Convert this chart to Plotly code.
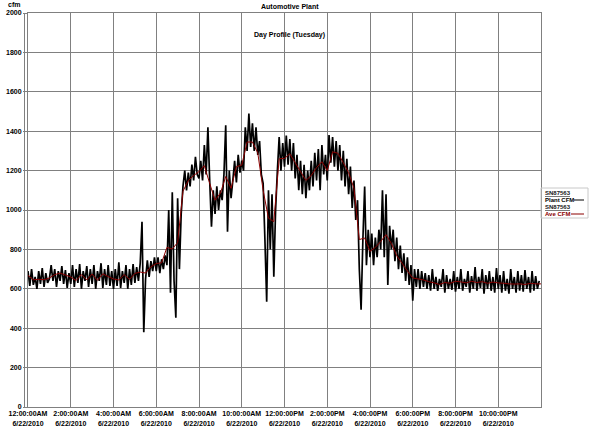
import plotly.graph_objects as go
import pandas as pd

# ---------------- data ----------------
title_text = "Automotive Plant"
subtitle_text = "Day Profile (Tuesday)"
y_unit = "cfm"
series_names = ["Plant CFM", "Ave CFM"]
meter_id = "SN87563"

# Plant CFM, 5-minute samples, one row per hour (00:00 .. 23:55)
black_cfm = [
    690, 615, 700, 620, 660, 600, 690, 625, 705, 610, 680, 630,
    650, 720, 640, 700, 610, 690, 640, 715, 625, 695, 605, 680,
    625, 720, 610, 700, 630, 725, 600, 690, 640, 715, 610, 700,
    625, 720, 600, 690, 640, 730, 605, 700, 620, 720, 615, 690,
    600, 700, 615, 735, 605, 690, 630, 720, 600, 700, 620, 725,
    630, 710, 640, 730, 940, 380, 650, 745, 660, 740, 690, 760,
    690, 760, 680, 750, 700, 770, 720, 1000, 580, 1090, 640, 453,
    1060, 700, 980, 1120, 1200, 1100, 1190, 1120, 1230, 1150, 1270, 1180,
    1160, 1250, 1150, 1330, 1180, 1420, 1150, 915, 1100, 980, 1120, 1000,
    1100, 1050, 1180, 1430, 890, 1200, 1060, 1150, 1250, 1140, 1280, 1190,
    1250, 1200, 1420, 1300, 1490, 1320, 1440, 1300, 1420, 1280, 1350, 1180,
    1135, 850, 534, 1100, 800, 1080, 661, 1000, 1200, 1370, 1200, 1340,
    1220, 1378, 1230, 1360, 1200, 1340, 1160, 1280, 1100, 1250, 1080, 1230,
    1060, 1200, 1100, 1250, 1120, 1290, 1150, 1310, 1100, 1330, 1180, 1280,
    1150, 1380, 1240, 1370, 1220, 1350, 1200, 1330, 1150, 1300, 1120, 1260,
    1080, 1220, 1010, 1150, 950, 1050, 700, 494, 850, 1119, 720, 900,
    760, 880, 720, 860, 760, 900, 800, 1100, 760, 1080, 620, 920,
    800, 900, 740, 860, 700, 820, 680, 780, 640, 760, 620, 720,
    540, 700, 610, 700, 600, 690, 610, 680, 600, 670, 590, 700,
    600, 660, 590, 650, 610, 700, 580, 670, 600, 650, 595, 690,
    585, 660, 600, 700, 590, 650, 610, 690, 580, 665, 600, 710,
    590, 660, 605, 700, 575, 670, 600, 690, 590, 660, 580, 705,
    600, 670, 580, 690, 590, 650, 575, 700, 600, 660, 580, 690,
    590, 670, 585, 695, 600, 660, 580, 690, 590, 665, 600, 640,
]

# Ave CFM, 15-minute samples (00:00 .. 24:00)
ave_cfm = [
    668, 646, 648, 646, 655, 672, 680, 670,
    660, 642, 672, 645, 675, 643, 676, 662,
    650, 645, 672, 648, 678, 685, 680, 712,
    728, 732, 810, 802, 835, 1095, 1150, 1175,
    1195, 1225, 1135, 1050, 1085, 1170, 1110, 1220,
    1228, 1345, 1345, 1290, 1100, 958, 941, 1260,
    1262, 1285, 1240, 1195, 1150, 1175, 1215, 1245,
    1200, 1295, 1288, 1240, 1190, 1110, 850, 858,
    790, 810, 840, 875, 830, 768, 730, 690,
    655, 650, 645, 636, 630, 622, 632, 628,
    638, 635, 630, 638, 632, 636, 628, 634,
    630, 628, 625, 624, 625, 622, 628, 625,
    625,
]

y_ticks = [0, 200, 400, 600, 800, 1000, 1200, 1400, 1600, 1800, 2000]
x_tick_times = ["2010-06-22 00:00", "2010-06-22 02:00", "2010-06-22 04:00",
                "2010-06-22 06:00", "2010-06-22 08:00", "2010-06-22 10:00",
                "2010-06-22 12:00", "2010-06-22 14:00", "2010-06-22 16:00",
                "2010-06-22 18:00", "2010-06-22 20:00", "2010-06-22 22:00"]
x_tick_labels = ["12:00:00AM", "2:00:00AM", "4:00:00AM", "6:00:00AM",
                 "8:00:00AM", "10:00:00AM", "12:00:00PM", "2:00:00PM",
                 "4:00:00PM", "6:00:00PM", "8:00:00PM", "10:00:00PM"]
date_label = "6/22/2010"

t_black = pd.date_range("2010-06-22 00:00", periods=len(black_cfm), freq="5min")
t_ave = pd.date_range("2010-06-22 00:00", periods=len(ave_cfm), freq="15min")

# ---------------- figure ----------------
FONT = "Liberation Sans, Arial, sans-serif"
GRID = "#808080"

fig = go.Figure()
fig.add_trace(go.Scatter(x=t_black, y=black_cfm, mode="lines",
                         line=dict(color="black", width=1.7, simplify=False),
                         name=series_names[0], showlegend=False))
fig.add_trace(go.Scatter(x=t_ave, y=ave_cfm, mode="lines",
                         line=dict(color="#8b0000", width=1, simplify=False),
                         name=series_names[1], showlegend=False))

W, H = 589, 428
L, R, T, B = 28, 48, 13, 21
pw, ph = W - L - R, H - T - B


def px_x(px):
    return (px - L) / pw


def px_y(py):
    return (H - B - py) / ph


fig.update_layout(
    width=W, height=H,
    margin=dict(l=L, r=R, t=T, b=B, pad=0, autoexpand=False),
    paper_bgcolor="white", plot_bgcolor="white",
    font=dict(family=FONT, size=7, color="black"),
    showlegend=False,
    xaxis=dict(
        range=["2010-06-22 00:00", "2010-06-23 00:00"],
        tickmode="array", tickvals=x_tick_times,
        ticktext=[f"<b>{a}</b><br><b>{date_label}</b>" for a in x_tick_labels],
        showgrid=True, gridcolor=GRID, gridwidth=1,
        showline=True, linecolor=GRID, mirror=True,
        ticks="", zeroline=False, automargin=False,
        tickfont=dict(family=FONT, size=7, color="black"),
    ),
    yaxis=dict(
        range=[0, 2000],
        tickmode="array", tickvals=y_ticks,
        ticktext=[f"<b>{v}</b>" for v in y_ticks],
        showgrid=True, gridcolor=GRID, gridwidth=1,
        showline=True, linecolor=GRID, mirror=True,
        ticks="outside", ticklen=4, tickcolor=GRID,
        zeroline=False, automargin=False,
        tickfont=dict(family=FONT, size=7, color="black"),
    ),
)

ann = []
ann.append(dict(text=f"<b>{y_unit}</b>", x=px_x(6), y=px_y(5), xref="paper", yref="paper",
                xanchor="left", yanchor="middle", showarrow=False,
                font=dict(family=FONT, size=7)))
ann.append(dict(text=f"<b>{title_text}</b>", x=px_x(290), y=px_y(6), xref="paper", yref="paper",
                xanchor="center", yanchor="middle", showarrow=False,
                font=dict(family=FONT, size=7)))
ann.append(dict(text=f"<b>{subtitle_text}</b>", x=px_x(289), y=px_y(35), xref="paper", yref="paper",
                xanchor="center", yanchor="middle", showarrow=False,
                font=dict(family=FONT, size=7)))

legend_rows = [
    (f"<b><u>{meter_id}</u></b>", "#202020", 193),
    (f"<b>{series_names[0]}</b>", "black", 200),
    (f"<b><u>{meter_id}</u></b>", "#202020", 207),
    (f"<b>{series_names[1]}</b>", "#8b0000", 214),
]
for txt, col, py in legend_rows:
    ann.append(dict(text=txt, x=px_x(543), y=px_y(py), xref="paper", yref="paper",
                    xanchor="left", yanchor="middle", showarrow=False,
                    font=dict(family=FONT, size=6, color=col)))
fig.update_layout(annotations=ann)

shapes = []
# double left axis line
shapes.append(dict(type="line", xref="paper", yref="paper",
                   x0=px_x(24.5), x1=px_x(24.5), y0=0, y1=1,
                   line=dict(color=GRID, width=1)))
# legend box
shapes.append(dict(type="rect", xref="paper", yref="paper",
                   x0=px_x(541), x1=px_x(588), y0=px_y(218), y1=px_y(188),
                   line=dict(color="#c8c8c8", width=1), fillcolor="rgba(0,0,0,0)"))
shapes.append(dict(type="line", xref="paper", yref="paper",
                   x0=px_x(574), x1=px_x(584), y0=px_y(200), y1=px_y(200),
                   line=dict(color="black", width=1)))
shapes.append(dict(type="line", xref="paper", yref="paper",
                   x0=px_x(571), x1=px_x(584), y0=px_y(214), y1=px_y(214),
                   line=dict(color="#8b0000", width=1)))
fig.update_layout(shapes=shapes)

fig.write_html("out.html")
